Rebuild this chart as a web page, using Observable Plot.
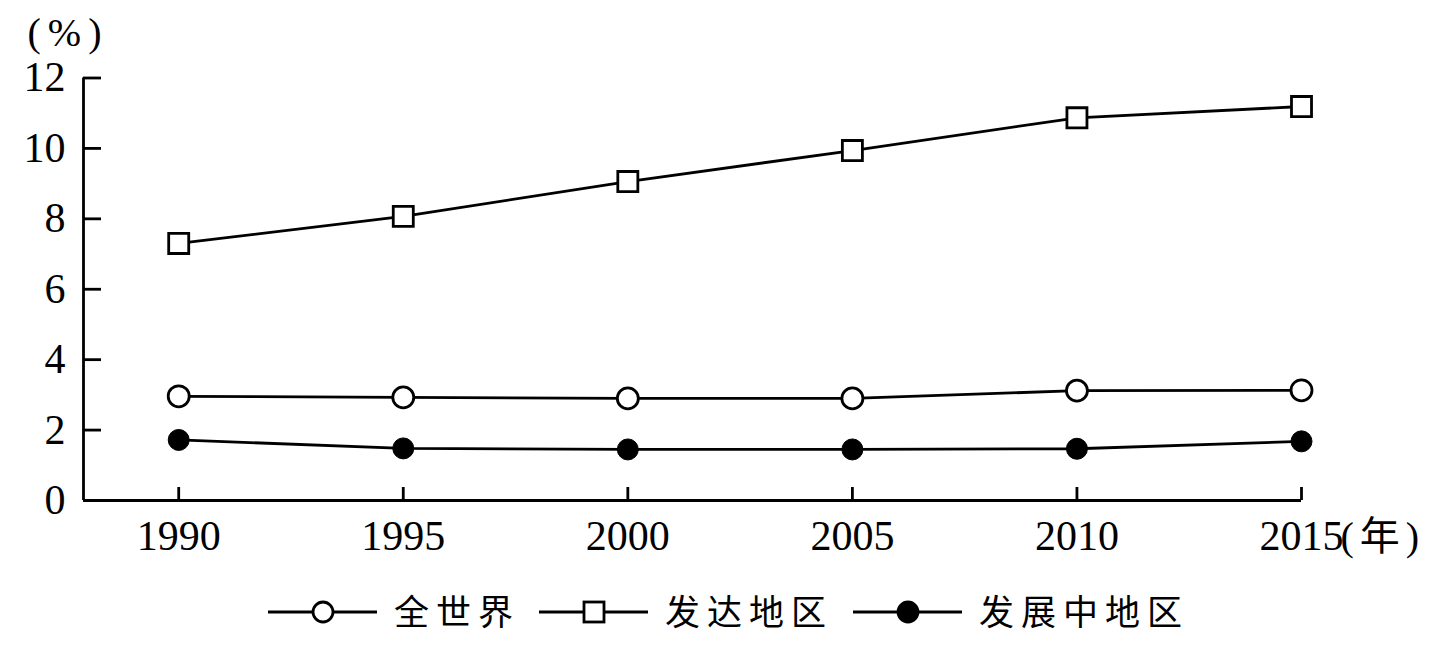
<!DOCTYPE html>
<html>
<head>
<meta charset="utf-8">
<script src="https://cdn.jsdelivr.net/npm/d3@7"></script>
<script src="https://cdn.jsdelivr.net/npm/@observablehq/plot@0.6"></script>
<style>
  html, body { margin: 0; padding: 0; background: #fff; }
  #chart svg { display: block; }
</style>
</head>
<body>
<div id="chart"></div>
<div id="legend"></div>
<script>
const years = [1990, 1995, 2000, 2005, 2010, 2015];
const world = [2.96, 2.93, 2.90, 2.90, 3.12, 3.13];
const developed = [7.30, 8.07, 9.06, 9.94, 10.87, 11.19];
const developing = [1.72, 1.48, 1.45, 1.45, 1.47, 1.68];
const seriesNames = ["全世界", "发达地区", "发展中地区"];
const yTicks = [0, 2, 4, 6, 8, 10, 12];
const yUnit = "(%)";
const xUnit = "(年)";

const rows = [];
[world, developed, developing].forEach((vals, i) => {
  vals.forEach((v, j) => rows.push({year: years[j], value: v, series: seriesNames[i]}));
});

const W = 1433, H = 580;
const mL = 83, mR = 132, mT = 77.5, mB = 80;
const frameW = W - mL - mR, frameH = H - mT - mB;
const xDomain = [1987.88, 2015];
const SW = 2.8;
const FS = 42;
const serif = "'Liberation Serif', 'Times New Roman', serif";
const cjk = "'Liberation Serif', 'Noto Sans CJK SC', serif";

const chart = Plot.plot({
  width: W, height: H,
  marginLeft: mL, marginRight: mR, marginTop: mT, marginBottom: mB,
  style: {fontFamily: serif, fontSize: FS + "px", color: "#000", background: "#fff"},
  x: {domain: xDomain},
  y: {domain: [0, 12]},
  marks: [
    Plot.ruleX([xDomain[0]], {stroke: "#000", strokeWidth: SW}),
    Plot.ruleY([0], {stroke: "#000", strokeWidth: SW}),
    Plot.ruleY(yTicks, {stroke: "#000", strokeWidth: SW, insetRight: frameW - 18}),
    Plot.ruleX(years, {stroke: "#000", strokeWidth: SW, insetTop: frameH - 13}),
    Plot.axisY({ticks: yTicks, tickSize: 0, tickPadding: 18, fontSize: FS, label: null}),
    Plot.axisX({ticks: years, tickFormat: d => String(d), tickSize: 0, tickPadding: 20, fontSize: FS, label: null}),
    Plot.line(rows, {x: "year", y: "value", z: "series", stroke: "#000", strokeWidth: SW}),
    Plot.dot(rows.filter(d => d.series === seriesNames[0]), {x: "year", y: "value", r: 10.5, fill: "#fff", stroke: "#000", strokeWidth: SW}),
    Plot.dot(rows.filter(d => d.series === seriesNames[1]), {x: "year", y: "value", symbol: "square", r: 11.3, fill: "#fff", stroke: "#000", strokeWidth: SW}),
    Plot.dot(rows.filter(d => d.series === seriesNames[2]), {x: "year", y: "value", r: 10.5, fill: "#000", stroke: "#000", strokeWidth: 1}),
    Plot.text([yUnit], {frameAnchor: "top-left", lineAnchor: "middle", dx: -56, dy: -45, text: d => d, fontSize: 40, textAnchor: "start", fontFamily: serif, className: "unit-y"}),
    Plot.text([xUnit], {x: [years[years.length - 1]], frameAnchor: "bottom", lineAnchor: "middle", dx: 39, dy: 37, text: d => d, fontSize: 40, textAnchor: "start", fontFamily: cjk, className: "unit-x"})
  ]
});
d3.select(chart).selectAll(".unit-y text").style("letter-spacing", "7px");
d3.select(chart).selectAll(".unit-x text").style("letter-spacing", "6px");
document.getElementById("chart").appendChild(chart);

// Legend below the plot
const legendItems = [
  {name: seriesNames[0], symbol: "circle", fill: "#fff", x0: 268},
  {name: seriesNames[1], symbol: "square", fill: "#fff", x0: 539},
  {name: seriesNames[2], symbol: "circle", fill: "#000", x0: 853}
];
const lg = d3.select("#legend").append("svg").attr("width", W).attr("height", 69);
const cy = 32;
legendItems.forEach(it => {
  const g = lg.append("g");
  g.append("line").attr("x1", it.x0).attr("x2", it.x0 + 109).attr("y1", cy).attr("y2", cy)
    .attr("stroke", "#000").attr("stroke-width", SW);
  const cx = it.x0 + 55;
  if (it.symbol === "circle") {
    g.append("circle").attr("cx", cx).attr("cy", cy).attr("r", 10)
      .attr("fill", it.fill).attr("stroke", "#000").attr("stroke-width", SW);
  } else {
    g.append("rect").attr("x", cx - 10).attr("y", cy - 10).attr("width", 20).attr("height", 20)
      .attr("fill", it.fill).attr("stroke", "#000").attr("stroke-width", SW);
  }
  g.append("text").attr("x", it.x0 + 126).attr("y", cy).attr("dy", "0.36em")
    .attr("font-family", "'Noto Sans CJK SC', sans-serif").attr("font-size", 35)
    .attr("letter-spacing", 7).attr("fill", "#000").text(it.name);
});
</script>
</body>
</html>
